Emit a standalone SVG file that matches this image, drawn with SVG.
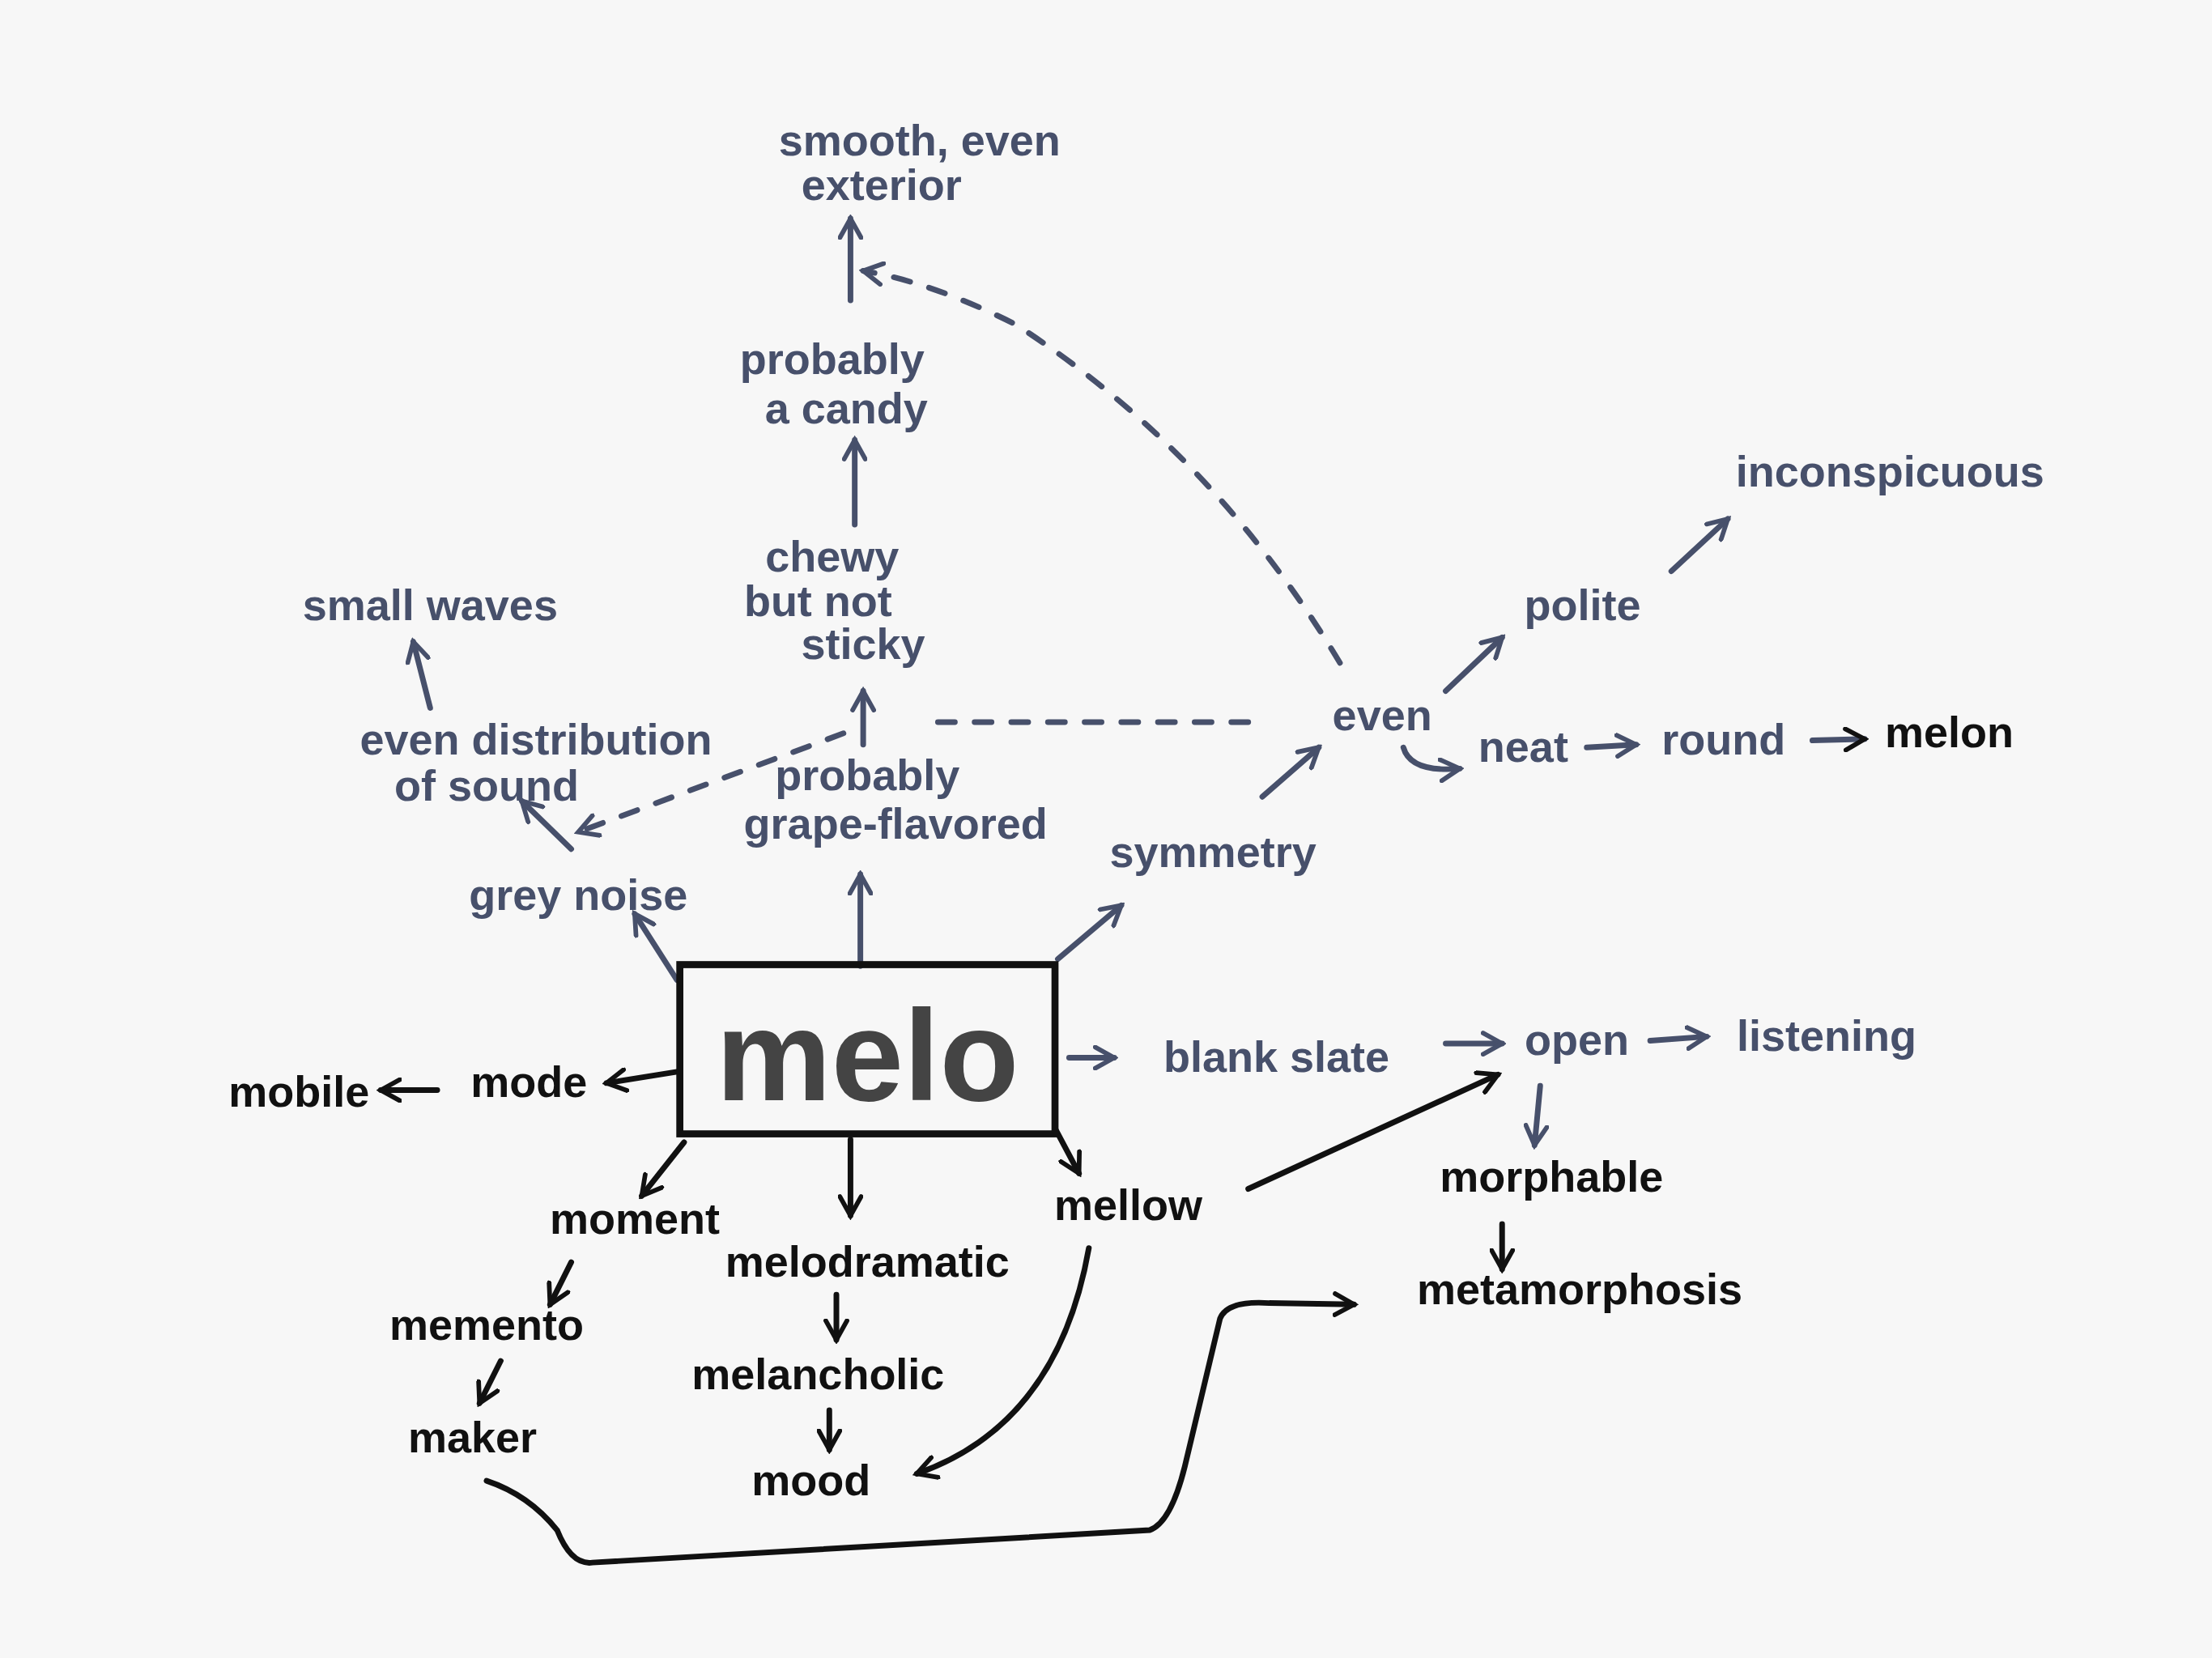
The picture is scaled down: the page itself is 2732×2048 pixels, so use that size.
<svg xmlns="http://www.w3.org/2000/svg" width="2732" height="2048" viewBox="0 0 2732 2048">
<defs>
<style>
.b{fill:#47506b;font-family:"Liberation Sans",Arial,sans-serif;font-weight:bold;font-size:31px;text-anchor:middle}
.k{fill:#111;font-family:"Liberation Sans",Arial,sans-serif;font-weight:bold;font-size:31px;text-anchor:middle}
.lb{stroke:#47506b;stroke-width:4;fill:none;stroke-linecap:round}
.lk{stroke:#111;stroke-width:4;fill:none;stroke-linecap:round}
.d{stroke-dasharray:12 14}
</style>
<marker id="ab" viewBox="0 0 12 12" refX="10" refY="6" markerWidth="18" markerHeight="18" orient="auto" markerUnits="userSpaceOnUse"><path d="M1 1 L10 6 L1 11" fill="none" stroke="#47506b" stroke-width="2.2" stroke-linecap="round"/></marker>
<marker id="ak" viewBox="0 0 12 12" refX="10" refY="6" markerWidth="18" markerHeight="18" orient="auto" markerUnits="userSpaceOnUse"><path d="M1 1 L10 6 L1 11" fill="none" stroke="#111" stroke-width="2.2" stroke-linecap="round"/></marker>
</defs>
<rect width="2732" height="2048" fill="#f7f7f7"/>
<g transform="scale(1.742)">
<g id="connectors">
<path class="lb" marker-end="url(#ab)" d="M480 695 L450 648"/>
<path class="lb" marker-end="url(#ab)" d="M610 685 L610 620"/>
<path class="lb" marker-end="url(#ab)" d="M750 680 L795 642"/>
<path class="lb" marker-end="url(#ab)" d="M895 565 L935 530"/>
<path class="lb" marker-end="url(#ab)" d="M1025 490 L1065 452"/>
<path class="lb" marker-end="url(#ab)" d="M1185 405 L1225 368"/>
<path class="lb d" d="M885 512 L660 512"/>
<path class="lb d" marker-end="url(#ab)" d="M598 520 L410 590"/>
<path class="lb" marker-end="url(#ab)" d="M612 528 L612 490"/>
<path class="lb" marker-end="url(#ab)" d="M405 602 L370 568"/>
<path class="lb" marker-end="url(#ab)" d="M305 502 L293 455"/>
<path class="lb" marker-end="url(#ab)" d="M606 372 L606 312"/>
<path class="lb" marker-end="url(#ab)" d="M603 213 L603 155"/>
<path class="lb d" marker-end="url(#ab)" d="M950 470 Q860 320 720 230 Q660 200 612 192"/>
<path class="lb" marker-end="url(#ab)" d="M995 530 Q1000 548 1035 545"/>
<path class="lb" marker-end="url(#ab)" d="M1125 530 L1160 528"/>
<path class="lb" marker-end="url(#ak)" d="M1285 525 L1322 524"/>
<path class="lb" marker-end="url(#ab)" d="M758 750 L790 750"/>
<path class="lb" marker-end="url(#ab)" d="M1025 740 L1065 740"/>
<path class="lb" marker-end="url(#ab)" d="M1170 738 L1210 735"/>
<path class="lb" marker-end="url(#ab)" d="M1092 770 L1088 812"/>
<path class="lk" marker-end="url(#ak)" d="M1065 868 L1065 900"/>
<path class="lk" marker-end="url(#ak)" d="M885 843 Q1000 790 1062 762"/>
<path class="lk" marker-end="url(#ak)" d="M480 760 L430 768"/>
<path class="lk" marker-end="url(#ak)" d="M310 773 L270 773"/>
<path class="lk" marker-end="url(#ak)" d="M485 810 L455 848"/>
<path class="lk" marker-end="url(#ak)" d="M603 808 L603 862"/>
<path class="lk" marker-end="url(#ak)" d="M748 800 L765 832"/>
<path class="lk" marker-end="url(#ak)" d="M405 895 L390 925"/>
<path class="lk" marker-end="url(#ak)" d="M355 965 L340 995"/>
<path class="lk" marker-end="url(#ak)" d="M593 918 L593 950"/>
<path class="lk" marker-end="url(#ak)" d="M588 1000 L588 1028"/>
<path class="lk" marker-end="url(#ak)" d="M772 885 Q750 1010 650 1045"/>
<path class="lk" marker-end="url(#ak)" d="M345 1050 Q375 1060 395 1085 Q405 1110 420 1108 L815 1085 Q830 1080 840 1040 L865 935 Q870 922 900 924 L960 925"/>
</g>
<g id="melo"><rect x="482" y="684" width="266" height="120" fill="none" stroke="#111" stroke-width="5"/><text x="615" y="780" style="fill:#444;font-family:'Liberation Sans',Arial,sans-serif;font-weight:bold;font-size:92px;text-anchor:middle">melo</text></g>
<g id="smooth"><text class="b" x="652" y="110">smooth, even</text><text class="b" x="625" y="142">exterior</text></g>
<g id="candy"><text class="b" x="590" y="265">probably</text><text class="b" x="600" y="300">a candy</text></g>
<g id="chewy"><text class="b" x="590" y="405">chewy</text><text class="b" x="580" y="437">but not</text><text class="b" x="612" y="467">sticky</text></g>
<g id="smallwaves"><text class="b" x="305" y="440">small waves</text></g>
<g id="evendist"><text class="b" x="380" y="535">even distribution</text><text class="b" x="345" y="568">of sound</text></g>
<g id="grape"><text class="b" x="615" y="560">probably</text><text class="b" x="635" y="595">grape-flavored</text></g>
<g id="greynoise"><text class="b" x="410" y="645">grey noise</text></g>
<g id="symmetry"><text class="b" x="860" y="615">symmetry</text></g>
<g id="even"><text class="b" x="980" y="518">even</text></g>
<g id="polite"><text class="b" x="1122" y="440">polite</text></g>
<g id="inconspicuous"><text class="b" x="1340" y="345">inconspicuous</text></g>
<g id="neat"><text class="b" x="1080" y="540">neat</text></g>
<g id="round"><text class="b" x="1222" y="535">round</text></g>
<g id="melon"><text class="k" x="1382" y="530">melon</text></g>
<g id="blankslate"><text class="b" x="905" y="760">blank slate</text></g>
<g id="open"><text class="b" x="1118" y="748">open</text></g>
<g id="listening"><text class="b" x="1295" y="745">listening</text></g>
<g id="morphable"><text class="k" x="1100" y="845">morphable</text></g>
<g id="metamorphosis"><text class="k" x="1120" y="925">metamorphosis</text></g>
<g id="mobile"><text class="k" x="212" y="785">mobile</text></g>
<g id="mode"><text class="k" x="375" y="778">mode</text></g>
<g id="moment"><text class="k" x="450" y="875">moment</text></g>
<g id="memento"><text class="k" x="345" y="950">memento</text></g>
<g id="maker"><text class="k" x="335" y="1030">maker</text></g>
<g id="melodramatic"><text class="k" x="615" y="905">melodramatic</text></g>
<g id="melancholic"><text class="k" x="580" y="985">melancholic</text></g>
<g id="mood"><text class="k" x="575" y="1060">mood</text></g>
<g id="mellow"><text class="k" x="800" y="865">mellow</text></g>
</g>
</svg>
